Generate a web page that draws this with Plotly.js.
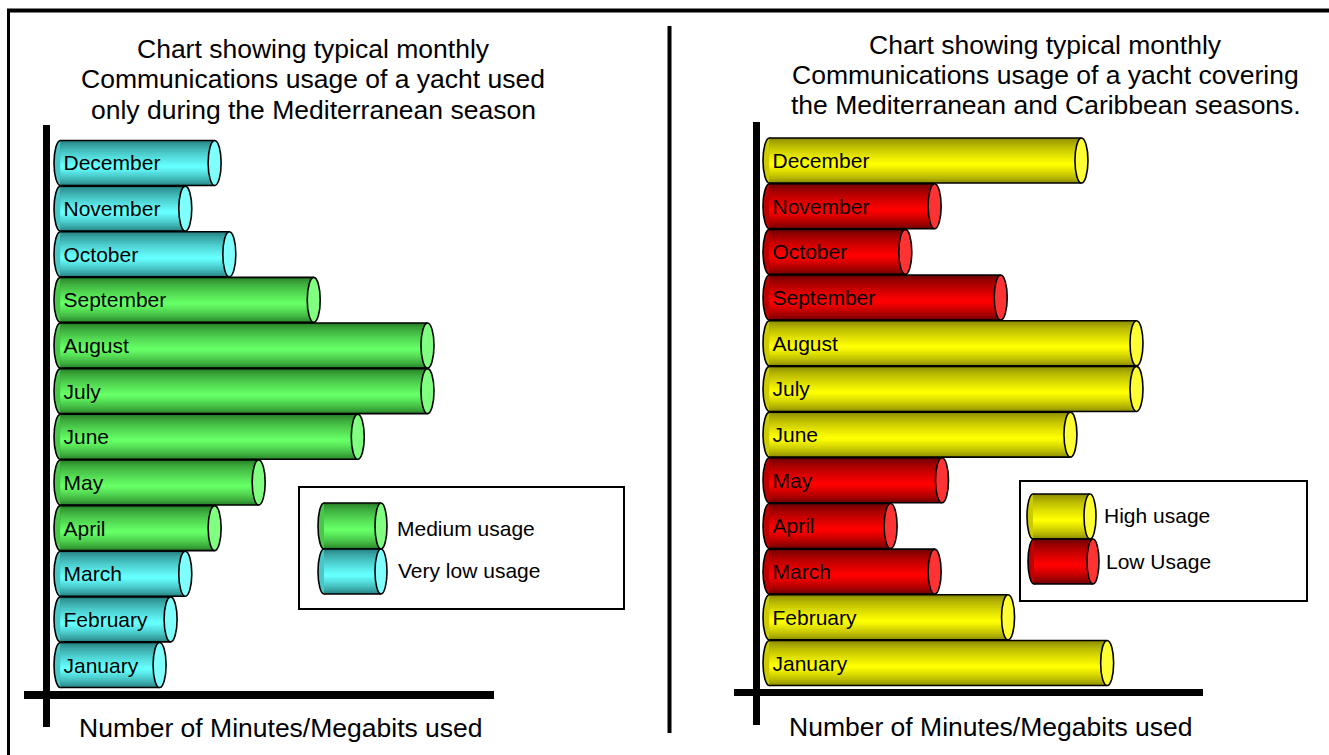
<!DOCTYPE html>
<html><head><meta charset="utf-8">
<script src="https://cdn.plot.ly/plotly-3.0.1.min.js"></script>
<style>html,body{margin:0;padding:0;background:#fff;overflow:hidden}#chart{width:1329px;height:755px}</style>
</head><body><div id="chart"></div>
<script>
// ---------------- DATA ----------------
const months = ['January','February','March','April','May','June','July','August','September','October','November','December'];
// Left chart: yacht used only during the Mediterranean season (relative usage, August = 100)
const medOnlyUsage = [27, 30, 34, 42, 54, 81, 100, 100, 69, 46, 34, 42];
const medOnlyLevel = ['Very low','Very low','Very low','Medium','Medium','Medium','Medium','Medium','Medium','Very low','Very low','Very low'];
// Right chart: yacht covering Mediterranean and Caribbean seasons
const medCaribUsage = [92, 65, 45, 33, 47, 82, 100, 100, 63, 37, 45, 85];
const medCaribLevel = ['High','High','Low','Low','Low','High','High','High','Low','Low','Low','High'];
const leftLegendLevels = ['Medium','Very low'];
const leftLegendLabels = ['Medium usage','Very low usage'];
const rightLegendLevels = ['High','Low'];
const rightLegendLabels = ['High usage','Low Usage'];
const leftTitle = ['Chart showing typical monthly','Communications usage of a yacht used','only during the Mediterranean season'];
const rightTitle = ['Chart showing typical monthly','Communications usage of a yacht covering','the Mediterranean and Caribbean seasons.'];
const xTitle = 'Number of Minutes/Megabits used';

// ---------------- STYLE ----------------
const FONT = 'Liberation Sans, Arial, Helvetica, sans-serif';
const W = 1329, H = 755;
const px = x => x / W, py = y => 1 - y / H;
const palette = {
  'Medium':   {dark:[40,130,40],  bright:[102,255,102], cap:'#80ff80'},
  'Very low': {dark:[38,128,128], bright:[102,255,255], cap:'#80ffff'},
  'High':     {dark:[140,140,0],  bright:[255,255,0],   cap:'#ffff33'},
  'Low':      {dark:[110,0,0],    bright:[255,0,0],     cap:'#ff3333'}
};
const N = 14;          // shading layers
const HALF = 0.493;    // half bar thickness (category units)
const PEAK = -0.08;    // brightest line position
const PXU = 3.67;      // pixels per value unit
const CAPW = 6.5 / PXU;

function mix(level, t) {
  const p = palette[level];
  const e = Math.pow(t, 0.75);
  const c = p.dark.map((d, i) => Math.round(d + (p.bright[i] - d) * e));
  return 'rgb(' + c.join(',') + ')';
}

const traces = [];
const shapes = [];
const annotations = [];

function panel(values, levels, xa, ya) {
  const xr = xa.replace('axis', ''), yr = ya.replace('axis', '');
  for (let k = 0; k < N; k++) {
    const t = k / (N - 1);
    const lo = -HALF + (PEAK + HALF) * t * 0.93;
    const hi = HALF - (HALF - PEAK) * t * 0.93;
    traces.push({
      type: 'bar', orientation: 'h', x: values, y: months, base: 0,
      width: hi - lo, offset: lo,
      marker: {color: levels.map(l => mix(l, t)), line: {width: 0}},
      xaxis: xr, yaxis: yr, hoverinfo: 'skip', showlegend: false
    });
  }
  traces.push({
    type: 'bar', orientation: 'h', x: values, y: months, base: 0,
    width: 2 * HALF, offset: -HALF,
    text: months, textposition: 'inside', insidetextanchor: 'start', textangle: 0,
    textfont: {family: FONT, size: 21, color: '#000'},
    marker: {color: 'rgba(0,0,0,0)', line: {width: 0}},
    xaxis: xr, yaxis: yr, hoverinfo: 'skip', showlegend: false
  });
  values.forEach((v, i) => {
    const lvl = levels[i];
    shapes.push({type: 'circle', layer: 'below', xref: xr, yref: yr,
      x0: -CAPW, x1: CAPW, y0: i - HALF, y1: i + HALF,
      fillcolor: mix(lvl, 0.45), line: {color: '#000', width: 1.6}});
    shapes.push({type: 'line', layer: 'above', xref: xr, yref: yr,
      x0: 0, x1: v, y0: i + HALF, y1: i + HALF, line: {color: '#000', width: 1.6}});
    shapes.push({type: 'line', layer: 'above', xref: xr, yref: yr,
      x0: 0, x1: v, y0: i - HALF, y1: i - HALF, line: {color: '#000', width: 1.6}});
    shapes.push({type: 'circle', layer: 'above', xref: xr, yref: yr,
      x0: v - CAPW, x1: v + CAPW, y0: i - HALF, y1: i + HALF,
      fillcolor: palette[lvl].cap, line: {color: '#000', width: 1.6}});
  });
}
panel(medOnlyUsage, medOnlyLevel, 'xaxis', 'yaxis');
panel(medCaribUsage, medCaribLevel, 'xaxis2', 'yaxis2');

// ---- legend cylinders (paper coords) ----
function legendCyl(xl, xc, yt, yb, level) {
  const a = 6;
  const pl = (x0, x1, y0, y1, extra) => Object.assign({xref: 'paper', yref: 'paper', layer: 'above',
    x0: px(x0), x1: px(x1), y0: py(y0), y1: py(y1)}, extra);
  shapes.push(pl(xl, xl + 2 * a, yt, yb, {type: 'circle', fillcolor: mix(level, 0.45), line: {color: '#000', width: 1.6}}));
  const mid = yt + (yb - yt) * (0.5 - PEAK / (2 * HALF));
  for (let k = 0; k < N; k++) {
    const t = k / (N - 1);
    const top = yt + (mid - yt) * t * 0.93;
    const bot = yb - (yb - mid) * t * 0.93;
    shapes.push(pl(xl + a, xc, top, bot, {type: 'rect', fillcolor: mix(level, t), line: {width: 0}}));
  }
  shapes.push(pl(xl + a, xc, yt, yt, {type: 'line', line: {color: '#000', width: 1.6}}));
  shapes.push(pl(xl + a, xc, yb, yb, {type: 'line', line: {color: '#000', width: 1.6}}));
  shapes.push(pl(xc - a, xc + a, yt, yb, {type: 'circle', fillcolor: palette[level].cap, line: {color: '#000', width: 1.6}}));
}
const paperRect = (x0, y0, x1, y1, w) => ({type: 'rect', xref: 'paper', yref: 'paper', layer: 'above',
  x0: px(x0), x1: px(x1), y0: py(y0), y1: py(y1), fillcolor: 'rgba(0,0,0,0)', line: {color: '#000', width: w}});
const paperLine = (x0, y0, x1, y1, w) => ({type: 'line', xref: 'paper', yref: 'paper', layer: 'above',
  x0: px(x0), x1: px(x1), y0: py(y0), y1: py(y1), line: {color: '#000', width: w}});

// frame, divider, axis crosses
shapes.push(paperLine(7, 10.5, 1329, 10.5, 4));
shapes.push(paperLine(8.5, 9, 8.5, 755, 3));
shapes.push(paperLine(669.5, 26, 669.5, 733, 4));
shapes.push(paperLine(46.5, 125, 46.5, 727, 7));
shapes.push(paperLine(24, 695, 494, 695, 8));
shapes.push(paperLine(756.5, 122, 756.5, 725, 7));
shapes.push(paperLine(734, 692.5, 1203, 692.5, 7));

// legends
shapes.push(paperRect(299, 487, 624, 609, 2));
legendCyl(318, 381, 503, 549, leftLegendLevels[0]);
legendCyl(318, 381, 549, 594, leftLegendLevels[1]);
shapes.push(paperRect(1020, 481, 1307, 601, 2));
legendCyl(1027, 1090, 494, 539, rightLegendLevels[0]);
legendCyl(1028, 1093, 539, 584, rightLegendLevels[1]);

const txt = (text, x, y, size, anchor) => ({text: text, xref: 'paper', yref: 'paper', x: px(x), y: py(y),
  xanchor: anchor || 'center', yanchor: 'middle', showarrow: false, font: {family: FONT, size: size, color: '#000'}});
annotations.push(txt(leftLegendLabels[0], 395, 528, 21, 'left'));
annotations.push(txt(leftLegendLabels[1], 396, 570, 21, 'left'));
annotations.push(txt(rightLegendLabels[0], 1102, 515, 21, 'left'));
annotations.push(txt(rightLegendLabels[1], 1104, 561, 21, 'left'));
[49, 79, 110].forEach((y, i) => annotations.push(txt(leftTitle[i], 313, y, 26.5)));
[45, 75, 105].forEach((y, i) => annotations.push(txt(rightTitle[i], 1045.5, y, 26.5)));
annotations.push(txt(xTitle, 281, 728, 26.5));
annotations.push(txt(xTitle, 990.5, 727, 26.5));

const hidden = {showgrid: false, zeroline: false, showline: false, showticklabels: false, ticks: '', fixedrange: true};
const layout = {
  width: W, height: H, margin: {l: 0, r: 0, t: 0, b: 0, pad: 0},
  paper_bgcolor: '#fff', plot_bgcolor: 'rgba(0,0,0,0)',
  barmode: 'overlay', showlegend: false,
  font: {family: FONT, color: '#000'},
  xaxis: Object.assign({domain: [px(46.5), px(494)], range: [(46.5 - 60.5) / PXU, (494 - 60.5) / PXU], anchor: 'y'}, hidden),
  yaxis: Object.assign({domain: [py(695), py(125)], range: [(665 - 695) / 45.64, (665 - 125) / 45.64], anchor: 'x',
    type: 'category', categoryorder: 'array', categoryarray: months}, hidden),
  xaxis2: Object.assign({domain: [px(756.5), px(1203)], range: [(756.5 - 769.5) / PXU, (1203 - 769.5) / PXU], anchor: 'y2'}, hidden),
  yaxis2: Object.assign({domain: [py(692.5), py(122)], range: [(663 - 692.5) / 45.68, (663 - 122) / 45.68], anchor: 'x2',
    type: 'category', categoryorder: 'array', categoryarray: months}, hidden),
  shapes: shapes, annotations: annotations
};
Plotly.newPlot('chart', traces, layout, {displayModeBar: false, staticPlot: true});
</script></body></html>
